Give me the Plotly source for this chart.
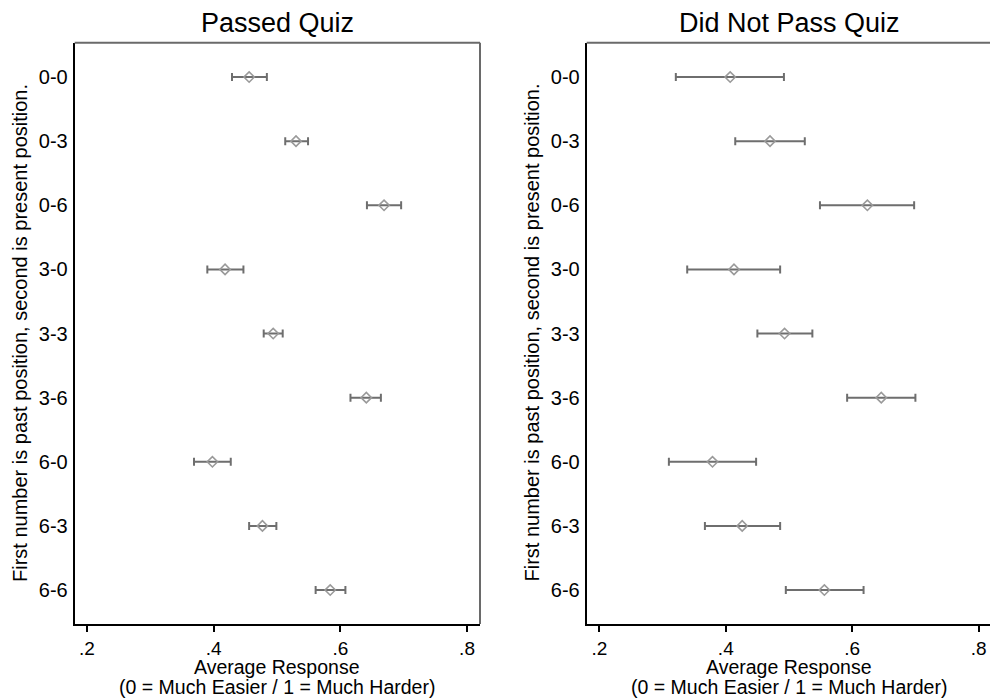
import plotly.graph_objects as go

# Position pairs (past-present), listed top to bottom
categories = ["0-0", "0-3", "0-6", "3-0", "3-3", "3-6", "6-0", "6-3", "6-6"]

# Passed quiz: mean response and confidence bounds
passed_mean = [0.456, 0.530, 0.669, 0.418, 0.494, 0.641, 0.398, 0.477, 0.584]
passed_lo   = [0.429, 0.513, 0.642, 0.390, 0.479, 0.616, 0.369, 0.456, 0.561]
passed_hi   = [0.484, 0.549, 0.696, 0.447, 0.509, 0.664, 0.427, 0.499, 0.608]

# Did not pass quiz: mean response and confidence bounds
failed_mean = [0.407, 0.470, 0.624, 0.413, 0.493, 0.646, 0.379, 0.426, 0.556]
failed_lo   = [0.321, 0.415, 0.549, 0.339, 0.450, 0.592, 0.310, 0.367, 0.495]
failed_hi   = [0.492, 0.525, 0.698, 0.486, 0.537, 0.700, 0.448, 0.486, 0.618]

x_ticks = [0.2, 0.4, 0.6, 0.8]
x_tick_labels = [".2", ".4", ".6", ".8"]

panel_titles = ["Passed Quiz", "Did Not Pass Quiz"]
x_title_lines = ["Average Response", "(0 = Much Easier / 1 = Much Harder)"]
y_title = "First number is past position, second is present position."

FONT = "Liberation Sans, Arial, sans-serif"
W, H = 990, 698

ypos = list(range(len(categories)))

fig = go.Figure()

panels = [
    (passed_mean, passed_lo, passed_hi, "x", "y"),
    (failed_mean, failed_lo, failed_hi, "x2", "y2"),
]
for mean, lo, hi, xa, ya in panels:
    fig.add_trace(go.Scatter(
        x=mean, y=ypos, xaxis=xa, yaxis=ya, mode="markers",
        marker=dict(symbol="diamond-open", size=8, color="#9a9a9a",
                    line=dict(width=1.6, color="#9a9a9a")),
        error_x=dict(type="data", symmetric=False,
                     array=[h - m for h, m in zip(hi, mean)],
                     arrayminus=[m - l for m, l in zip(mean, lo)],
                     color="#6e6e6e", thickness=2, width=4),
        showlegend=False, hoverinfo="skip",
    ))

# Plot-region geometry (paper fractions)
left_dom = [74.7 / W, 480.0 / W]
right_dom = [586.7 / W, 1.0]
y_dom = [1 - 624.0 / H, 1 - 42.7 / H]

axis_common = dict(
    showgrid=False, zeroline=False, showline=True, linecolor="black",
    linewidth=2,
)
x_tickfont = dict(family=FONT, size=19, color="black")
y_tickfont = dict(family=FONT, size=20, color="black")

fig.update_layout(
    width=W, height=H,
    margin=dict(l=0, r=0, t=0, b=0),
    paper_bgcolor="white", plot_bgcolor="white",
    font=dict(family=FONT, color="black"),
    xaxis=dict(domain=left_dom, range=[0.1806, 0.8205], anchor="y",
               tickvals=x_ticks, ticktext=x_tick_labels, ticks="outside",
               ticklen=6, tickwidth=1.5, tickcolor="black",
               tickfont=x_tickfont, **axis_common),
    yaxis=dict(domain=y_dom, range=[8.53, -0.535], anchor="x",
               tickvals=ypos, ticktext=categories, ticks="",
               ticklabelstandoff=1, tickfont=y_tickfont, **axis_common),
    xaxis2=dict(domain=right_dom, range=[0.18, 0.818], anchor="y2",
                tickvals=x_ticks, ticktext=x_tick_labels, ticks="outside",
                ticklen=6, tickwidth=1.5, tickcolor="black",
                tickfont=x_tickfont, **axis_common),
    yaxis2=dict(domain=y_dom, range=[8.53, -0.535], anchor="x2",
                tickvals=ypos, ticktext=categories, ticks="",
                ticklabelstandoff=1, tickfont=y_tickfont, **axis_common),
)

# Gray outline on the top and right of each plot region
box = dict(color="#6a6a6a", width=2)
fig.add_shape(type="line", xref="x domain", yref="y domain",
              x0=0, x1=1, y0=1, y1=1, line=box)
fig.add_shape(type="line", xref="x domain", yref="y domain",
              x0=1, x1=1, y0=0, y1=1, line=box)
fig.add_shape(type="line", xref="x2 domain", yref="y2 domain",
              x0=0, x1=1, y0=1, y1=1, line=box)

# Panel titles, axis titles
centers = [(74.7 + 480.0) / 2 / W, (586.7 + 992.0) / 2 / W]
ytitle_x = [20.0 / W, 531.5 / W]
y_mid = 1 - 333.0 / H
for cx, yx, title in zip(centers, ytitle_x, panel_titles):
    fig.add_annotation(x=cx, y=1 - 23.0 / H, xref="paper", yref="paper",
                       text=title, showarrow=False, xanchor="center",
                       yanchor="middle",
                       font=dict(family=FONT, size=27, color="black"))
    for line_y, line_text in zip([667.0, 686.5], x_title_lines):
        fig.add_annotation(x=cx, y=1 - line_y / H, xref="paper",
                           yref="paper", text=line_text, showarrow=False,
                           xanchor="center", yanchor="middle",
                           font=dict(family=FONT, size=19.5, color="black"))
    fig.add_annotation(x=yx, y=y_mid, xref="paper", yref="paper",
                       text=y_title, showarrow=False, textangle=-90,
                       xanchor="center", yanchor="middle",
                       font=dict(family=FONT, size=20, color="black"))

fig.write_html("out.html")
